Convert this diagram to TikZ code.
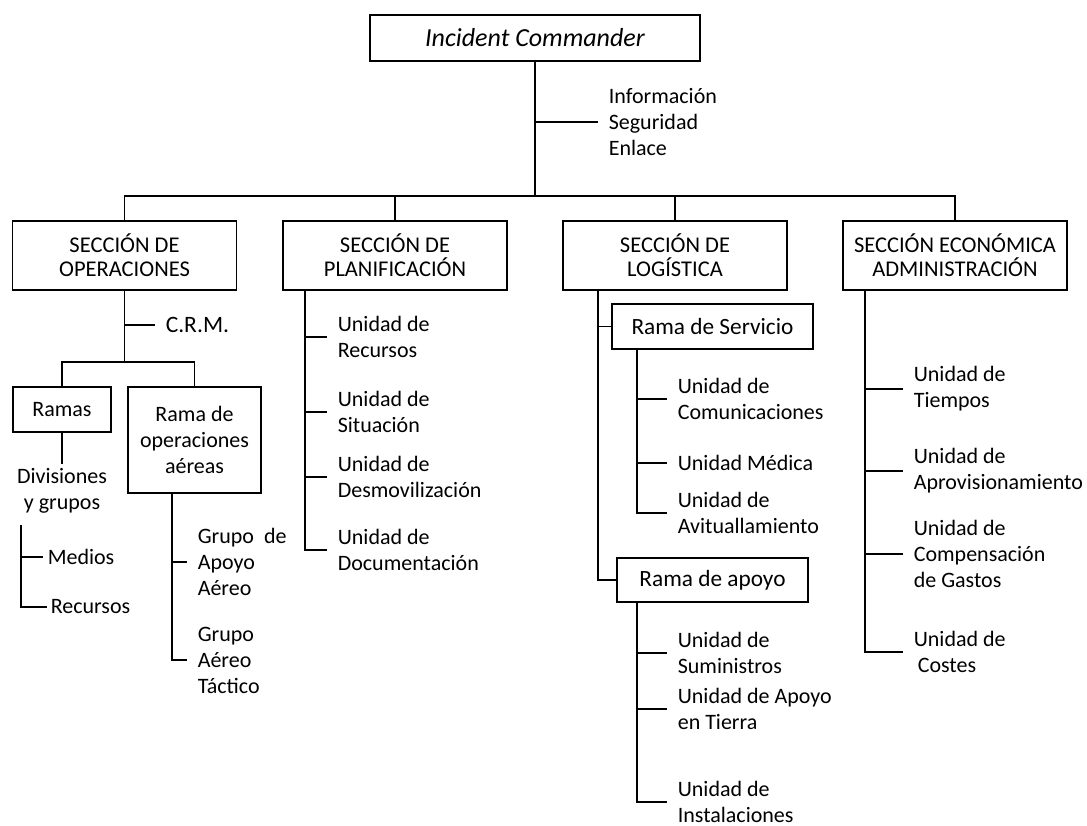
\documentclass[tikz,border=0pt]{standalone}
\usepackage{fontspec}
\setmainfont{Carlito}
\usepackage{tikz}

\newcommand{\orgfont}{\fontsize{22}{26}\selectfont}

\begin{document}
\begin{tikzpicture}[
        x=1pt, y=-1pt,
        line width=1.6pt,
        box/.style={rectangle, draw, line width=1.6pt, align=center, inner sep=0pt, font=\orgfont},
        section/.style={box, minimum width=224pt, minimum height=69pt, font=\fontsize{22.5}{24}\selectfont},
        branch/.style={box, font=\fontsize{23.3}{26}\selectfont},
        unit/.style={anchor=west, align=left, inner xsep=10pt, inner ysep=0pt, font=\orgfont},
        link/.style={line width=1.6pt}
    ]
        \useasboundingbox (0,0) rectangle (1087,826);

        \node[box, minimum width=330pt, minimum height=46pt, font=\fontsize{26}{30}\selectfont\itshape] (ic) at (535,38) {Incident Commander};
        \node[unit] (info) at (598,122) {Información\\Seguridad\\Enlace};
        \coordinate (bus) at (535,196);

        \node[section] (ops) at (124.5,255.5) {SECCIÓN DE\\OPERACIONES};
        \node[section] (plan) at (395,255.5) {SECCIÓN DE\\PLANIFICACIÓN};
        \node[section] (log) at (675,255.5) {SECCIÓN DE\\LOGÍSTICA};
        \node[section] (eco) at (955,255.5) {SECCIÓN ECONÓMICA\\ADMINISTRACIÓN};

        \draw[link] (ic) -- (bus);
        \draw[link] (ic.south |- info.west) -- (info.west);
        \draw[link] (ops.north) |- (eco.north |- bus) -- (eco.north);
        \draw[link] (plan.north) -- (plan.north |- bus);
        \draw[link] (log.north) -- (log.north |- bus);

        % operaciones
        \node[unit, font=\fontsize{23.5}{26}\selectfont] (crm) at (155,325) {C.R.M.};
        \coordinate (opsbus) at (124.5,362);
        \node[box, minimum width=98pt, minimum height=45pt] (ramas) at (62,409.5) {Ramas};
        \node[box, minimum width=133pt, minimum height=106pt] (aereas) at (194.5,440) {Rama de\\operaciones\\aéreas};
        \node[font=\orgfont, align=center, inner sep=4pt] (div) at (62,491) {Divisiones\\y grupos};
        \coordinate (divsp) at (21,525);
        \node[unit, inner xsep=4pt] (medios) at (43,557) {Medios};
        \node[unit, inner xsep=3pt] (recur) at (47,607) {Recursos};
        \coordinate (aersp) at ([xshift=-22.5pt]aereas.south);
        \node[unit] (gaa) at (187,562) {Grupo~ de\\Apoyo\\Aéreo};
        \node[unit] (gat) at (187,660) {Grupo\\Aéreo\\Táctico};

        \draw[link] (ops.south) -- (opsbus);
        \draw[link] (ops.south |- crm.west) -- (crm.west);
        \draw[link] (ramas.north) |- (aereas.north |- opsbus) -- (aereas.north);
        \draw[link] (ramas) -- (div);
        \draw[link] (divsp) |- (recur.west);
        \draw[link] (divsp |- medios.west) -- (medios.west);
        \draw[link] (aersp) |- (gat.west);
        \draw[link] (aersp |- gaa.west) -- (gaa.west);

        % planificacion
        \coordinate (plansp) at (305,290);
        \node[unit] (pu1) at (327,337) {Unidad de\\Recursos};
        \node[unit] (pu2) at (327,412) {Unidad de\\Situación};
        \node[unit] (pu3) at (327,477) {Unidad de\\Desmovilización};
        \node[unit] (pu4) at (327,550) {Unidad de\\Documentación};

        \draw[link] (plansp) |- (pu4.west);
        \foreach \u in {pu1,pu2,pu3}
            \draw[link] (plansp |- \u.west) -- (\u.west);

        % logistica
        \coordinate (logsp) at (598,290);
        \node[branch, minimum width=201pt, minimum height=45pt] (serv) at (712.5,326.5) {Rama de Servicio};
        \node[branch, minimum width=191pt, minimum height=44pt] (apoyo) at (712.5,580) {Rama de apoyo};
        \coordinate (servsp) at (637,349);
        \node[unit] (lu1) at (667,399) {Unidad de\\Comunicaciones};
        \node[unit] (lu2) at (667,463) {Unidad Médica};
        \node[unit] (lu3) at (667,513) {Unidad de\\Avituallamiento};
        \coordinate (apoyosp) at (637,602);
        \node[unit] (lu4) at (667,653) {Unidad de\\Suministros};
        \node[unit] (lu5) at (667,709) {Unidad de Apoyo\\en Tierra};
        \node[unit] (lu6) at (667,802) {Unidad de\\Instalaciones};

        \draw[link] (logsp) |- (apoyo.west);
        \draw[link] (logsp |- serv.west) -- (serv.west);
        \draw[link] (servsp) |- (lu3.west);
        \foreach \u in {lu1,lu2}
            \draw[link] (servsp |- \u.west) -- (\u.west);
        \draw[link] (apoyosp) |- (lu6.west);
        \foreach \u in {lu4,lu5}
            \draw[link] (apoyosp |- \u.west) -- (\u.west);

        % economica
        \coordinate (ecosp) at (865,290);
        \node[unit] (eu1) at (903,389) {Unidad de\\Tiempos};
        \node[unit] (eu2) at (903,471) {Unidad de\\Aprovisionamiento};
        \node[unit] (eu3) at (903,554) {Unidad de\\Compensación\\de Gastos};
        \node[unit] (eu4) at (903,652) {Unidad de\\\hspace*{4pt}Costes};

        \draw[link] (ecosp) |- (eu4.west);
        \foreach \u in {eu1,eu2,eu3}
            \draw[link] (ecosp |- \u.west) -- (\u.west);
    \end{tikzpicture}
\end{document}
